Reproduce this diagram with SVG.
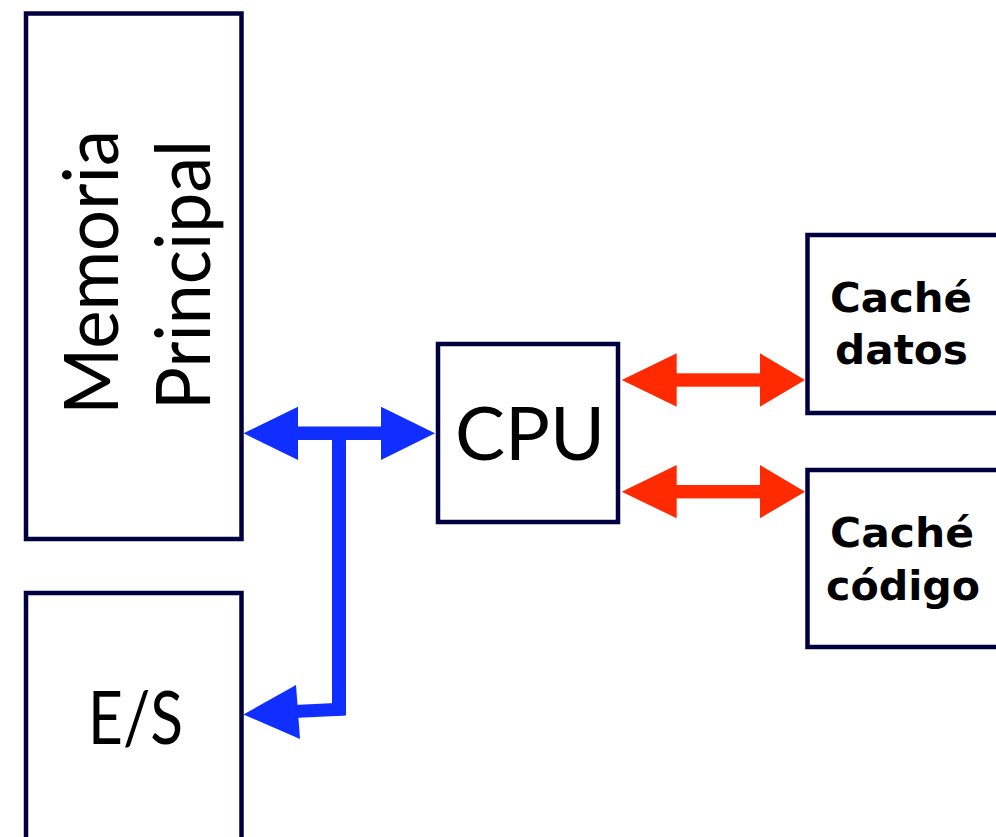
<svg xmlns="http://www.w3.org/2000/svg" width="996" height="837" viewBox="0 0 996 837">
<style>
.box{fill:#fff;stroke:#000040;stroke-width:4.5}
.lt{font-family:Lato,"Open Sans",sans-serif;font-weight:400;fill:#000;text-anchor:middle}
.bd{font-family:"DejaVu Sans",sans-serif;font-weight:bold;fill:#000;text-anchor:middle;font-size:40px}
.blue{fill:#0F2EFF}
.red{fill:#FF2A00}
</style>
<rect width="996" height="837" fill="#fff"/>
<g id="memoria">
<rect class="box" x="26" y="13.5" width="215.5" height="525.5"/>
<text class="lt" font-size="76" transform="translate(118,272.5) rotate(-90)" textLength="285" lengthAdjust="spacingAndGlyphs">Memoria</text>
<text class="lt" font-size="76" transform="translate(210,275) rotate(-90)" textLength="270" lengthAdjust="spacingAndGlyphs">Principal</text>
</g>
<g id="es">
<rect class="box" x="26" y="593" width="215.5" height="260"/>
<text class="lt" font-size="74" x="135.5" y="744" textLength="95" lengthAdjust="spacingAndGlyphs">E/S</text>
</g>
<g id="cpu">
<rect class="box" x="438" y="344" width="180" height="178"/>
<text class="lt" font-size="74" x="530" y="460" textLength="150" lengthAdjust="spacingAndGlyphs">CPU</text>
</g>
<g id="cache-datos">
<rect class="box" x="807.5" y="235" width="200" height="178"/>
<text class="bd" x="901" y="312" textLength="142" lengthAdjust="spacingAndGlyphs">Caché</text>
<text class="bd" x="901.5" y="364" textLength="133" lengthAdjust="spacingAndGlyphs">datos</text>
</g>
<g id="cache-codigo">
<rect class="box" x="807.5" y="470" width="200" height="177"/>
<text class="bd" x="902" y="547" textLength="144" lengthAdjust="spacingAndGlyphs">Caché</text>
<text class="bd" x="903" y="600" textLength="154" lengthAdjust="spacingAndGlyphs">código</text>
</g>
<g id="connectors">
<rect class="blue" x="296" y="426.5" width="88" height="13.5"/>
<polygon class="blue" points="243.5,433.3 298,406.7 298,460"/>
<polygon class="blue" points="435,433.3 381,406.7 381,460"/>
<polygon class="blue" points="332,433 346,433 346,715 332,716"/>
<polygon class="blue" points="346,702.5 346,715.5 294,718 294,705"/>
<polygon class="blue" points="243.5,714.5 296,685 300,739"/>
<rect class="red" x="675" y="373.3" width="87" height="13.4"/>
<polygon class="red" points="621.7,380 676.7,353.3 676.7,406.7"/>
<polygon class="red" points="805,380 760,353.3 760,406.7"/>
<rect class="red" x="675" y="485" width="87" height="13.4"/>
<polygon class="red" points="621.7,491.7 676.7,465 676.7,518.3"/>
<polygon class="red" points="805,491.7 760,465 760,518.3"/>
</g>
</svg>
